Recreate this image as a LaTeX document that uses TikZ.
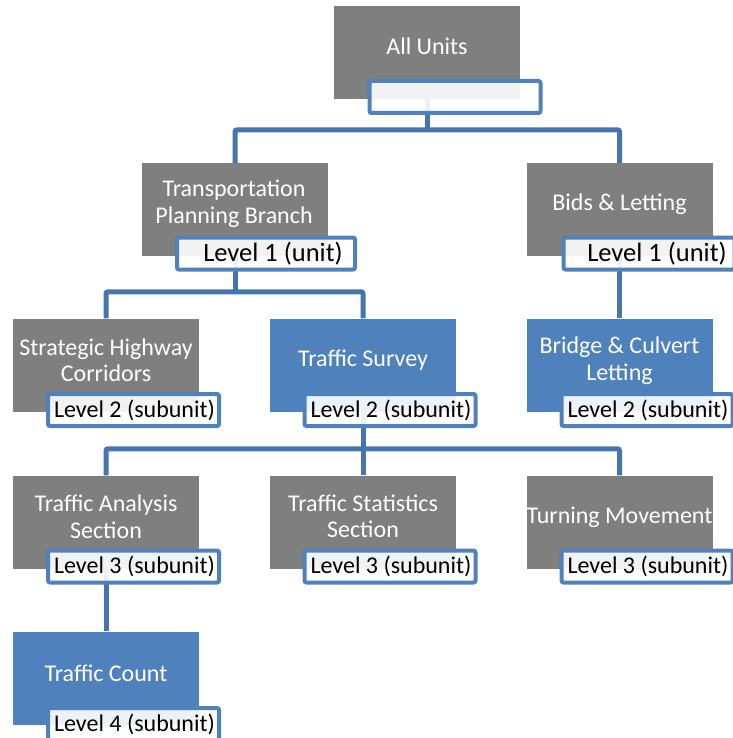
\documentclass[tikz,border=0pt]{standalone}
\usepackage{fontspec}
\setmainfont{Carlito}
\usetikzlibrary{backgrounds}
\definecolor{unitgray}{HTML}{7F7F7F}
\definecolor{unitblue}{HTML}{4F81BD}
\definecolor{linkblue}{HTML}{4674AD}
\tikzset{
  unitbox/.style={rectangle, minimum width=186pt, minimum height=93pt, inner sep=0pt},
  graybox/.style={unitbox, fill=unitgray},
  bluebox/.style={unitbox, fill=unitblue},
  unittext/.style={text=white, align=center, inner sep=0pt, font=\fontsize{24}{26.5}\selectfont},
  lvlbox/.style={rectangle, draw=unitblue, line width=4pt, rounded corners=2pt, fill=white,
    fill opacity=0.9, text opacity=1, minimum width=171pt, minimum height=32pt, inner sep=0pt,
    font=\fontsize{24}{26}\selectfont},
  lvlone/.style={lvlbox, font=\fontsize{26.5}{28}\selectfont},
  linkline/.style={draw=linkblue, line width=5pt, rounded corners=2pt}
}
\begin{document}
\begin{tikzpicture}[x=1pt, y=-1pt]
  \useasboundingbox (0,0) rectangle (732,738);

  % all units
  \node[graybox] (allunits) at (427, 52.5) {};
  \node[unittext] (allunits-t) at (427, 46) {All Units};
  \node[lvlbox] (allunits-l) at (455, 97) {};

  % level 1
  \node[graybox] (tpb) at (235, 209.5) {};
  \node[unittext] (tpb-t) at (234, 204) {Transportation\\Planning Branch};
  \node[lvlone, minimum width=178pt] (tpb-l) at (266, 253.5) {\hspace{14pt}Level 1 (unit)};

  \node[graybox] (bids) at (619.5, 209.5) {};
  \node[unittext] (bids-t) at (619.5, 204) {Bids \& Letting};
  \node[lvlone] (bids-l) at (649, 253.5) {\hspace{16pt}Level 1 (unit)};

  % level 2
  \node[graybox] (shc) at (106, 365) {};
  \node[unittext] (shc-t) at (106, 360.5) {Strategic Highway\\Corridors};
  \node[lvlbox] (shc-l) at (133.5, 410) {\hspace{2pt}Level 2 (subunit)};

  \node[bluebox] (tsurvey) at (363, 365) {};
  \node[unittext] (tsurvey-t) at (363, 360) {Traffic Survey};
  \node[lvlbox] (tsurvey-l) at (390, 410) {\hspace{2pt}Level 2 (subunit)};

  \node[bluebox] (bcl) at (619.5, 365) {};
  \node[unittext] (bcl-t) at (619.5, 360.5) {Bridge \& Culvert\\Letting};
  \node[lvlbox] (bcl-l) at (647, 410) {\hspace{2pt}Level 2 (subunit)};

  % level 3
  \node[graybox] (tas) at (106, 522) {};
  \node[unittext] (tas-t) at (106, 516.5) {Traffic Analysis\\Section};
  \node[lvlbox] (tas-l) at (133.5, 566.5) {\hspace{2pt}Level 3 (subunit)};

  \node[graybox] (tss) at (363, 522) {};
  \node[unittext] (tss-t) at (363, 516.5) {Traffic Statistics\\Section};
  \node[lvlbox] (tss-l) at (390, 566.5) {\hspace{2pt}Level 3 (subunit)};

  \node[graybox] (tmove) at (619.5, 522) {};
  \node[unittext] (tmove-t) at (619.5, 517) {Turning Movement};
  \node[lvlbox] (tmove-l) at (647, 566.5) {\hspace{2pt}Level 3 (subunit)};

  % level 4
  \node[bluebox] (tcount) at (106, 678) {};
  \node[unittext] (tcount-t) at (106, 673) {Traffic Count};
  \node[lvlbox] (tcount-l) at (133.5, 724) {\hspace{2pt}Level 4 (subunit)};

  % connectors
  \begin{scope}[on background layer]
    \draw[linkline] (allunits.south) -- ++(0,31);
    \draw[linkline] (tpb.north) -- ++(0,-33) -| (bids.north);
    \draw[linkline] (tpb.south) -- ++(0,36);
    \draw[linkline] (shc.north) -- ++(0,-26.5) -| (tsurvey.north);
    \draw[linkline] (bids) -- (bcl);
    \draw[linkline] (tsurvey.south) -- (tss.north);
    \draw[linkline] (tas.north) -- ++(0,-26.5) -| (tmove.north);
    \draw[linkline] (tas) -- (tcount);
  \end{scope}
\end{tikzpicture}
\end{document}
